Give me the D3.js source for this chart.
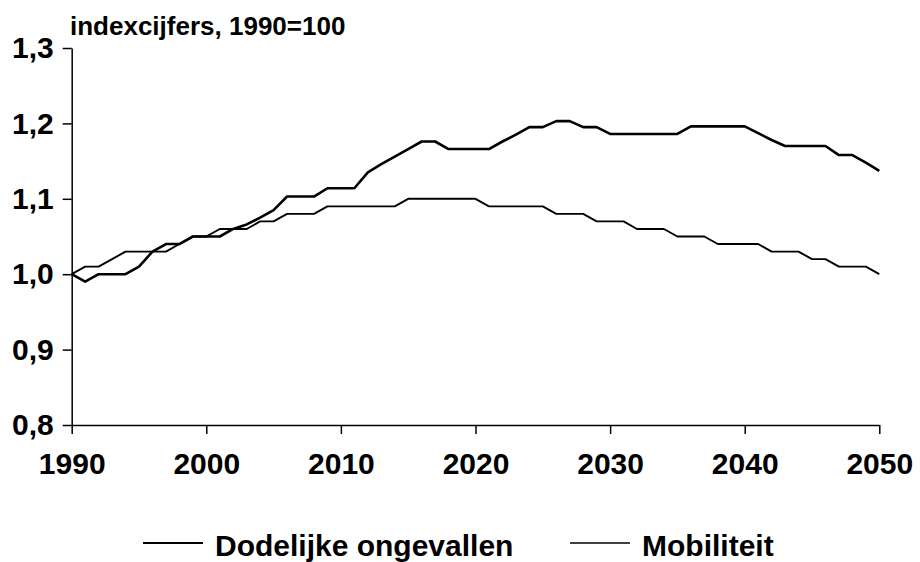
<!DOCTYPE html>
<html>
<head>
<meta charset="utf-8">
<script src="https://cdn.jsdelivr.net/npm/d3@7"></script>
<style>
  body { margin: 0; background: #fff; }
  svg { display: block; font-family: "Liberation Sans", Arial, Helvetica, sans-serif; }
  .axis text { font-size: 30px; font-weight: bold; fill: #000; }
  .axis path, .axis line { stroke: #000; stroke-width: 1.5px; }
</style>
</head>
<body>
<svg id="chart" width="920" height="562"></svg>
<script>
// data, one value per year 1990..2050
var years = d3.range(1990, 2051);
var dodelijke = [
  1.00, 0.99, 1.00, 1.00, 1.00, 1.01, 1.03, 1.04, 1.04, 1.05,
  1.05, 1.05, 1.06, 1.066, 1.075, 1.085, 1.103, 1.103, 1.103, 1.114,
  1.114, 1.114, 1.135, 1.146, 1.156, 1.166, 1.176, 1.176, 1.166, 1.166,
  1.166, 1.166, 1.176, 1.185, 1.195, 1.195, 1.203, 1.203, 1.195, 1.195,
  1.186, 1.186, 1.186, 1.186, 1.186, 1.186, 1.196, 1.196, 1.196, 1.196,
  1.196, 1.187, 1.178, 1.170, 1.170, 1.170, 1.170, 1.158, 1.158, 1.148,
  1.137
];
var mobiliteit = [
  1.00, 1.01, 1.01, 1.02, 1.03, 1.03, 1.03, 1.03, 1.04, 1.05,
  1.05, 1.06, 1.06, 1.06, 1.07, 1.07, 1.08, 1.08, 1.08, 1.09,
  1.09, 1.09, 1.09, 1.09, 1.09, 1.10, 1.10, 1.10, 1.10, 1.10,
  1.10, 1.09, 1.09, 1.09, 1.09, 1.09, 1.08, 1.08, 1.08, 1.07,
  1.07, 1.07, 1.06, 1.06, 1.06, 1.05, 1.05, 1.05, 1.04, 1.04,
  1.04, 1.04, 1.03, 1.03, 1.03, 1.02, 1.02, 1.01, 1.01, 1.01,
  1.00
];
var xTicks = [1990, 2000, 2010, 2020, 2030, 2040, 2050];
var yTicks = [0.8, 0.9, 1.0, 1.1, 1.2, 1.3];
var seriesNames = ["Dodelijke ongevallen", "Mobiliteit"];
var yTitle = "indexcijfers, 1990=100";

var svg = d3.select("#chart");
// plot box (window.top is taken, hence the long names)
var plotLeft = 71.7, plotRight = 879.3, plotTop = 48, plotBottom = 425;

var x = d3.scaleLinear().domain([1990, 2050]).range([plotLeft, plotRight]);
var y = d3.scaleLinear().domain([0.8, 1.3]).range([plotBottom, plotTop]);

// dutch style decimals
var nl = d3.formatLocale({decimal: ",", thousands: ".", grouping: [3], currency: ["€", ""]});
var fmt = nl.format(".1f");

svg.append("g")
    .attr("class", "axis")
    .attr("transform", "translate(0," + plotBottom + ")")
    .call(d3.axisBottom(x).tickValues(xTicks).tickFormat(d3.format("d"))
        .tickSize(9).tickSizeOuter(0).tickPadding(19));

svg.append("g")
    .attr("class", "axis")
    .attr("transform", "translate(" + plotLeft + ",0)")
    .call(d3.axisLeft(y).tickValues(yTicks).tickFormat(fmt)
        .tickSize(9).tickSizeOuter(0).tickPadding(9));

svg.append("text")
    .attr("x", 70)
    .attr("y", 35)
    .style("font-size", "26px")
    .style("font-weight", "bold")
    .text(yTitle);

var line = d3.line()
    .x(function(d, i) { return x(years[i]); })
    .y(function(d) { return y(d); });

var widths = [2.6, 1.9];
[dodelijke, mobiliteit].forEach(function(s, k) {
  svg.append("path")
      .datum(s)
      .attr("fill", "none")
      .attr("stroke", "#000")
      .attr("stroke-width", widths[k])
      .attr("stroke-linejoin", "round")
      .attr("d", line);
});

// legend
var legendPos = [143, 570];
var legend = svg.append("g").attr("class", "legend");
seriesNames.forEach(function(name, k) {
  var g = legend.append("g").attr("transform", "translate(" + legendPos[k] + ",0)");
  g.append("line")
      .attr("x1", 0).attr("x2", 60)
      .attr("y1", 543).attr("y2", 543)
      .attr("stroke", "#000")
      .attr("stroke-width", widths[k] - 0.5);
  g.append("text")
      .attr("x", 72)
      .attr("y", 556)
      .style("font-size", "30px")
      .style("font-weight", "bold")
      .text(name);
});
</script>
</body>
</html>
